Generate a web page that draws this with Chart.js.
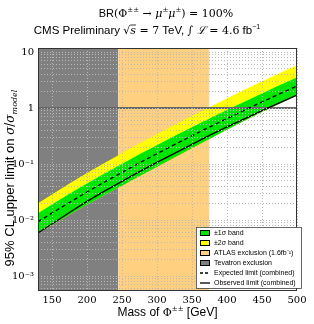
<!DOCTYPE html>
<html>
<head>
<meta charset="utf-8">
<script src="https://cdn.jsdelivr.net/npm/chart.js@4.4.1/dist/chart.umd.min.js"></script>
<style>
  html, body { margin: 0; padding: 0; background: #fff; }
</style>
</head>
<body>
<canvas id="myChart" width="314" height="324"></canvas>
<script>
// mass points (GeV) and limits on sigma/sigma_model
const mass     = [130, 150, 175, 200, 225, 250, 275, 300, 325, 350, 375, 400, 425, 450, 475, 500]
const expected = [0.0093, 0.0133, 0.0206, 0.0316, 0.0476, 0.0708, 0.1047, 0.1527, 0.222, 0.320, 0.457, 0.648, 0.915, 1.282, 1.786, 2.47]
const plus1    = [0.01325, 0.0189, 0.0293, 0.0449, 0.0676, 0.1005, 0.1487, 0.2168, 0.315, 0.454, 0.649, 0.920, 1.30, 1.82, 2.54, 3.51]
const plus2    = [0.0200, 0.0287, 0.0447, 0.0689, 0.1042, 0.1558, 0.2314, 0.339, 0.495, 0.720, 1.037, 1.484, 2.114, 2.987, 4.197, 5.83]
const minus1   = [0.00578, 0.00811, 0.01236, 0.01864, 0.0276, 0.0411, 0.0607, 0.0886, 0.131, 0.192, 0.279, 0.408, 0.595, 0.846, 1.197, 1.68]
const observed = [0.00588, 0.00851, 0.0136, 0.0215, 0.0328, 0.0489, 0.0733, 0.1069, 0.1554, 0.224, 0.324, 0.460, 0.641, 0.897, 1.232, 1.70]

// excluded mass ranges
const tevatron = [130, 245]
const atlas    = [245, 375]

const xTicks = [150, 200, 250, 300, 350, 400, 450, 500]
const yTicks = [0.001, 0.01, 0.1, 1, 10]
const yTickLabels = ['10⁻³', '10⁻²', '10⁻¹', '1', '10']

const xMin = 130, xMax = 500
const yMin = 5.4e-4, yMax = 11.8

const SANS = '"Liberation Sans", Arial, sans-serif'
const SERIF = '"DejaVu Serif", serif'

const pts = (arr) => arr.map((v, i) => ({ x: mass[i], y: v }))
const band = (r) => [{ x: r[0], y: yMax }, { x: r[1], y: yMax }]

function drawRich(ctx, parts, x, y, align) {
  let w = 0
  parts.forEach(p => { ctx.font = p.font; p.w = ctx.measureText(p.t).width; w += p.w })
  let cx = align === 'center' ? x - w / 2 : x
  parts.forEach(p => {
    ctx.font = p.font
    ctx.fillText(p.t, cx, y - (p.up || 0))
    if (p.over) {
      ctx.beginPath()
      ctx.lineWidth = 0.8
      ctx.moveTo(cx, y - p.over)
      ctx.lineTo(cx + p.w, y - p.over)
      ctx.stroke()
    }
    cx += p.w
  })
  return w
}

const decor = {
  id: 'decor',
  afterDraw(chart) {
    const ctx = chart.ctx
    const a = chart.chartArea
    ctx.save()
    ctx.fillStyle = '#000'
    ctx.strokeStyle = '#000'
    ctx.textBaseline = 'alphabetic'

    // frame
    ctx.lineWidth = 1
    ctx.strokeStyle = '#333'
    ctx.strokeRect(a.left + 0.5, a.top + 0.5, a.right - a.left - 1, a.bottom - a.top - 1)
    ctx.strokeStyle = '#000'

    // titles
    const s11 = '11px ' + SANS, m11 = '11px ' + SERIF, mi11 = 'italic 11px ' + SERIF, m7 = '7px ' + SERIF
    drawRich(ctx, [
      { t: 'BR', font: s11 }, { t: '(Φ', font: m11 }, { t: '±±', font: m7, up: 5 },
      { t: ' → ', font: m11 }, { t: 'μ', font: mi11 }, { t: '±', font: m7, up: 5 },
      { t: 'μ', font: mi11 }, { t: '±', font: m7, up: 5 }, { t: ') = 100%', font: m11 }
    ], 166, 17, 'center')
    drawRich(ctx, [
      { t: 'CMS Preliminary ', font: '11.5px ' + SANS }, { t: '√', font: m11 }, { t: 's', font: mi11, over: 9 },
      { t: ' = 7', font: m11 }, { t: ' TeV, ', font: '11.5px ' + SANS }, { t: '∫ ', font: m11 },
      { t: 'ℒ', font: mi11 }, { t: ' = 4.6', font: m11 }, { t: ' fb', font: '11.5px ' + SANS },
      { t: '−1', font: '7px ' + SANS, up: 5 }
    ], 147, 34, 'center')

    // x title
    drawRich(ctx, [
      { t: 'Mass of ', font: '12px ' + SANS }, { t: 'Φ', font: m11 }, { t: '±±', font: m7, up: 5 },
      { t: ' [GeV]', font: '12px ' + SANS }
    ], (a.left + a.right) / 2, 316, 'center')

    // y title
    ctx.save()
    ctx.translate(14, 178)
    ctx.rotate(-Math.PI / 2)
    drawRich(ctx, [
      { t: '95% CL upper limit on ', font: '13px ' + SANS }, { t: 'σ', font: 'italic 12px ' + SERIF },
      { t: '/', font: '12px ' + SERIF }, { t: 'σ', font: 'italic 12px ' + SERIF },
      { t: 'model', font: 'italic 8px ' + SERIF, up: -3 }
    ], 0, 0, 'center')
    ctx.restore()

    // legend
    const lx = 196, ly = 227, lw = 105, lh = 61
    ctx.fillStyle = '#fff'
    ctx.fillRect(lx, ly, lw, lh)
    ctx.strokeStyle = '#444'
    ctx.strokeRect(lx + 0.5, ly + 0.5, lw, lh)
    const items = [
      { label: '±1σ band', fill: '#00e600' },
      { label: '±2σ band', fill: '#ffff00' },
      { label: 'ATLAS exclusion (1.6fb⁻¹)', fill: '#ffd080' },
      { label: 'Tevatron exclusion', fill: '#808080' },
      { label: 'Expected limit (combined)', line: [3, 2] },
      { label: 'Observed limit (combined)', line: [] }
    ]
    ctx.font = '7px ' + SANS
    ctx.textBaseline = 'middle'
    items.forEach((it, i) => {
      const cy = ly + 6 + i * 10
      if (it.fill) {
        ctx.fillStyle = it.fill
        ctx.fillRect(lx + 4, cy - 3, 10, 6)
        ctx.strokeStyle = '#000'
        ctx.lineWidth = 1
        ctx.strokeRect(lx + 4.5, cy - 2.5, 9, 5)
      } else {
        ctx.strokeStyle = '#000'
        ctx.lineWidth = 1.3
        ctx.setLineDash(it.line)
        ctx.beginPath()
        ctx.moveTo(lx + 4, cy)
        ctx.lineTo(lx + 14, cy)
        ctx.stroke()
        ctx.setLineDash([])
      }
      ctx.fillStyle = '#000'
      ctx.fillText(it.label, lx + 18, cy + 0.5)
    })
    ctx.restore()
  }
}

const ctx = document.getElementById('myChart')

new Chart(ctx, {
  type: 'line',
  data: {
    datasets: [
      { label: 'Tevatron', data: band(tevatron), fill: 'start', backgroundColor: '#808080', borderWidth: 0, pointRadius: 0, order: 10 },
      { label: 'ATLAS', data: band(atlas), fill: 'start', backgroundColor: '#ffd080', borderWidth: 0, pointRadius: 0, order: 9 },
      { label: '+2 sigma', data: pts(plus2), fill: 4, backgroundColor: '#ffff00', borderWidth: 0, pointRadius: 0, order: 8 },
      { label: '+1 sigma', data: pts(plus1), fill: 4, backgroundColor: '#00e600', borderWidth: 0, pointRadius: 0, order: 7 },
      { label: '-1 sigma', data: pts(minus1), fill: false, borderWidth: 0, pointRadius: 0, order: 6 },
      { label: 'one', data: [{ x: xMin, y: 1 }, { x: xMax, y: 1 }], borderColor: '#666', borderWidth: 2, pointRadius: 0, order: 3 },
      { label: 'Expected', data: pts(expected), borderColor: '#000', borderWidth: 1.3, borderDash: [4, 3], pointRadius: 0, order: 2 },
      { label: 'Observed', data: pts(observed), borderColor: '#000', borderWidth: 1.3, pointRadius: 0, order: 1 }
    ]
  },
  options: {
    responsive: false,
    animation: false,
    layout: { padding: { left: 0, right: 17, top: 48, bottom: 0 } },
    plugins: { legend: { display: false }, tooltip: { enabled: false } },
    scales: {
      x: {
        type: 'linear',
        min: xMin,
        max: xMax,
        afterBuildTicks: (s) => { s.ticks = xTicks.map(v => ({ value: v })) },
        afterFit: (s) => { s.height = 33 },
        ticks: { color: '#000', font: { family: SERIF, size: 10 }, padding: 3, autoSkip: false, maxRotation: 0 },
        grid: { color: '#b8b8b8', drawTicks: false, z: 1 },
        border: { display: false, dash: [1, 2] }
      },
      y: {
        type: 'logarithmic',
        min: yMin,
        max: yMax,
        afterBuildTicks: (s) => {
          const t = []
          for (let e = -4; e <= 1; e++) {
            for (let k = 1; k < 10; k++) {
              const v = k * Math.pow(10, e)
              if (v >= yMin && v <= yMax) t.push({ value: v })
            }
          }
          s.ticks = t
        },
        afterFit: (s) => { s.width = 38 },
        ticks: {
          color: '#000',
          font: { family: SERIF, size: 10 },
          padding: 4,
          autoSkip: false,
          callback: (v) => {
            const i = yTicks.findIndex(t => Math.abs(t - v) / t < 1e-6)
            return i >= 0 ? yTickLabels[i] : ''
          }
        },
        grid: { color: '#b8b8b8', drawTicks: false, z: 1 },
        border: { display: false, dash: [1, 2] }
      }
    }
  },
  plugins: [decor]
})
</script>
</body>
</html>
